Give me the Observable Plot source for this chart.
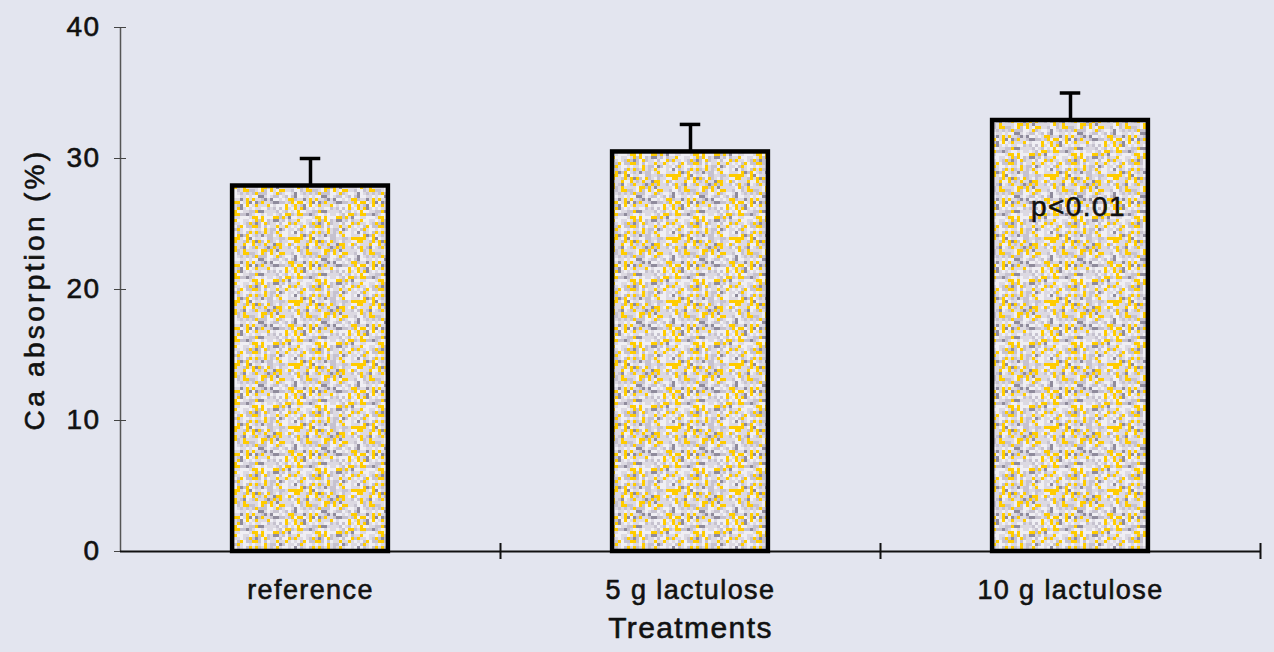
<!DOCTYPE html>
<html>
<head>
<meta charset="utf-8">
<script src="https://cdn.jsdelivr.net/npm/d3@7"></script>
<script src="https://cdn.jsdelivr.net/npm/@observablehq/plot@0.6"></script>
<style>
  html, body { margin: 0; padding: 0; background: #e3e5ef; }
  svg text { letter-spacing: 1.4px; }
</style>
</head>
<body>
<div id="chart"></div>
<script>
const categories = ["reference", "5 g lactulose", "10 g lactulose"];
const values = [27.9, 30.5, 32.9];
const errors = [2.1, 2.1, 2.1];
const yTicks = [0, 10, 20, 30, 40];
const annotation = "p<0.01";
const annotationY = 26.3;
const yLabel = "Ca absorption (%)";
const xLabel = "Treatments";

const rows = categories.map((c, i) => ({cat: c, i, v: values[i], e: errors[i]}));
const half = 0.205;
const capHalf = 0.027;
const heavy = {stroke: "#111", strokeWidth: 0.6};

const svg = Plot.plot({
  width: 1274,
  height: 652,
  marginLeft: 120,
  marginRight: 14,
  marginTop: 27,
  marginBottom: 101,
  style: {fontFamily: "Liberation Sans, Arial, sans-serif", background: "#e3e5ef", color: "#111"},
  x: {domain: [0, 3], axis: null},
  y: {domain: [0, 40], axis: null},
  marks: [
    Plot.ruleX([0], {y1: 0, y2: 40, stroke: "#555", strokeWidth: 1.5}),
    Plot.axisY({ticks: yTicks, tickSize: 6, tickPadding: 14, fontSize: 28, stroke: "#444", fill: "#111", label: null}),
    Plot.axisY({ticks: yTicks, tickSize: -6, tickFormat: () => "", stroke: "#444", label: null}),
    Plot.axisX({ticks: [1, 2, 3], tickSize: 8, tickFormat: () => "", stroke: "#111", strokeWidth: 2, label: null}),
    Plot.axisX({ticks: [1, 2, 3], tickSize: -8, tickFormat: () => "", stroke: "#111", strokeWidth: 2, label: null}),
    Plot.ruleY([0], {x1: 0, x2: 3, stroke: "#111", strokeWidth: 2}),
    Plot.ruleX(rows, {x: d => d.i + 0.5, y1: d => d.v, y2: d => d.v + d.e, stroke: "#000", strokeWidth: 3.5}),
    Plot.ruleY(rows, {y: d => d.v + d.e, x1: d => d.i + 0.5 - capHalf, x2: d => d.i + 0.5 + capHalf, stroke: "#000", strokeWidth: 3.5}),
    Plot.rect(rows, {x1: d => d.i + 0.5 - half, x2: d => d.i + 0.5 + half, y1: 0, y2: d => d.v, fill: "url(#speckle)", stroke: "#000", strokeWidth: 4.5}),
    Plot.text(rows, {x: d => d.i + 0.5, y: 0, dy: 39, text: d => d.cat, fontSize: 27, fill: "#111", ...heavy}),
    Plot.text([xLabel], {x: 1.5, y: 0, dy: 77, text: d => d, fontSize: 30, fill: "#111", ...heavy}),
    Plot.text([yLabel], {frameAnchor: "left", y: 20, dx: -85, rotate: -90, textAnchor: "middle", text: d => d, fontSize: 28, fill: "#111", ...heavy}),
    Plot.text([annotation], {x: 2.5, y: annotationY, dx: 8, text: d => d, fontSize: 28, fill: "#111", ...heavy})
  ]
});

// heavier y tick labels; wider tracking on the y title (matches the scan)
svg.querySelectorAll("text").forEach(t => {
  if (t.textContent === yLabel) t.style.letterSpacing = "3.3px";
});
svg.querySelectorAll("g[aria-label='y-axis tick label'] text").forEach(t => {
  t.setAttribute("stroke", "#111"); t.setAttribute("stroke-width", "0.6");
});

// speckled texture fill (style only)
const ns = "http://www.w3.org/2000/svg";
const defs = document.createElementNS(ns, "defs");
const pat = document.createElementNS(ns, "pattern");
const P = 63, cell = 3;
pat.setAttribute("id", "speckle");
pat.setAttribute("patternUnits", "userSpaceOnUse");
pat.setAttribute("width", P);
pat.setAttribute("height", P);
const bg = document.createElementNS(ns, "rect");
bg.setAttribute("width", P); bg.setAttribute("height", P); bg.setAttribute("fill", "#dcd9e2");
pat.appendChild(bg);
for (let gx = 0; gx < P / cell; gx++) {
  for (let gy = 0; gy < P / cell; gy++) {
    let h = Math.imul(gx + 1, 374761393) ^ Math.imul(gy + 7, 668265263);
    h = Math.imul(h ^ (h >>> 13), 1274126177);
    h = ((h ^ (h >>> 16)) >>> 0) % 100;
    let col = null;
    if (h < 17) col = "#ffcc00";
    else if (h < 35) col = "#c6c2cf";
    else if (h < 41) col = "#8f8b9c";
    else if (h < 70) col = "#f0eff4";
    if (col) {
      const r = document.createElementNS(ns, "rect");
      r.setAttribute("x", gx * cell); r.setAttribute("y", gy * cell);
      r.setAttribute("width", cell); r.setAttribute("height", cell);
      r.setAttribute("fill", col);
      pat.appendChild(r);
    }
  }
}
defs.appendChild(pat);
svg.insertBefore(defs, svg.firstChild);

document.getElementById("chart").appendChild(svg);
</script>
</body>
</html>
